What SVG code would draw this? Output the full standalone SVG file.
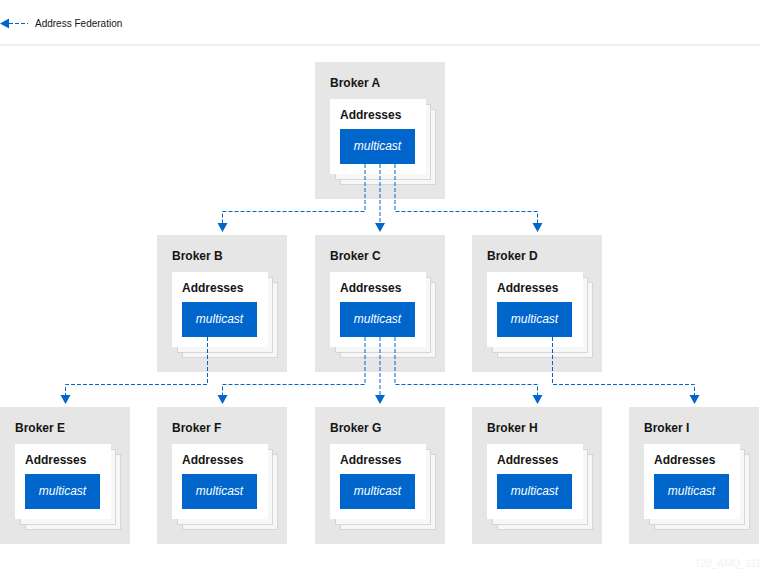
<svg xmlns="http://www.w3.org/2000/svg" width="760" height="584" viewBox="0 0 760 584">
<defs>
<style>
.bg{fill:#e6e6e6}
.sh{fill:#f7f7f7;stroke:#d6d6d6;stroke-width:1}
.card{fill:#ffffff}
.blue{fill:#0066cc}
.t{font-family:"Liberation Sans",Arial,sans-serif;font-size:12px;font-weight:bold;fill:#151515}
.m{font-family:"Liberation Sans",Arial,sans-serif;font-size:12px;font-style:italic;fill:#ffffff}
.c{fill:none;stroke:#0066cc;stroke-width:1;stroke-dasharray:4,2}
.ah{fill:#0066cc}
</style>
<g id="brk">
<rect class="bg" x="0" y="0" width="130" height="137"/>
<rect class="sh" x="25.5" y="47.5" width="95" height="75"/>
<rect class="sh" x="20.5" y="42.5" width="95" height="75"/>
<rect class="card" x="15" y="37" width="96" height="75"/>
<text class="t" x="25" y="57">Addresses</text>
<rect class="blue" x="25" y="67" width="75" height="35"/>
<text class="m" x="62.5" y="88" text-anchor="middle">multicast</text>
</g>
</defs>
<rect width="760" height="584" fill="#ffffff"/>
<g id="legend">
<polygon class="ah" points="0,23.5 9,18.5 9,28.5"/>
<line class="c" x1="9" y1="23.5" x2="28" y2="23.5"/>
<text x="35" y="27" font-family="Liberation Sans,Arial,sans-serif" font-size="10" fill="#151515">Address Federation</text>
<line x1="0" y1="45" x2="760" y2="45" stroke="#eeeeee" stroke-width="2"/>
</g>
<g id="brokerA"><use href="#brk" x="315" y="62"/><text class="t" x="330" y="87">Broker A</text></g>
<g id="brokerB"><use href="#brk" x="157" y="235"/><text class="t" x="172" y="260">Broker B</text></g>
<g id="brokerC"><use href="#brk" x="315" y="235"/><text class="t" x="330" y="260">Broker C</text></g>
<g id="brokerD"><use href="#brk" x="472" y="235"/><text class="t" x="487" y="260">Broker D</text></g>
<g id="brokerE"><use href="#brk" x="0" y="407"/><text class="t" x="15" y="432">Broker E</text></g>
<g id="brokerF"><use href="#brk" x="157" y="407"/><text class="t" x="172" y="432">Broker F</text></g>
<g id="brokerG"><use href="#brk" x="315" y="407"/><text class="t" x="330" y="432">Broker G</text></g>
<g id="brokerH"><use href="#brk" x="472" y="407"/><text class="t" x="487" y="432">Broker H</text></g>
<g id="brokerI"><use href="#brk" x="629" y="407"/><text class="t" x="644" y="432">Broker I</text></g>
<g id="connectors">
<polyline class="c" points="365,164 365,211.5 222.5,211.5 222.5,224"/>
<polyline class="c" points="380,164 380,224"/>
<polyline class="c" points="395,164 395,211.5 537.5,211.5 537.5,224"/>
<polygon class="ah" points="217.5,223 227.5,223 222.5,232"/>
<polygon class="ah" points="375,223 385,223 380,232"/>
<polygon class="ah" points="532.5,223 542.5,223 537.5,232"/>
<polyline class="c" points="207.5,337 207.5,384.5 65.5,384.5 65.5,396"/>
<polyline class="c" points="365,337 365,384.5 222.5,384.5 222.5,396"/>
<polyline class="c" points="380,337 380,396"/>
<polyline class="c" points="395,337 395,384.5 537.5,384.5 537.5,396"/>
<polyline class="c" points="552.5,337 552.5,384.5 694.5,384.5 694.5,396"/>
<polygon class="ah" points="60.5,395 70.5,395 65.5,404"/>
<polygon class="ah" points="217.5,395 227.5,395 222.5,404"/>
<polygon class="ah" points="375,395 385,395 380,404"/>
<polygon class="ah" points="532.5,395 542.5,395 537.5,404"/>
<polygon class="ah" points="689.5,395 699.5,395 694.5,404"/>
</g>
<text x="695" y="567" font-family="Liberation Sans,Arial,sans-serif" font-size="10" fill="#f2f2f2">120_AMQ_112</text>
</svg>
